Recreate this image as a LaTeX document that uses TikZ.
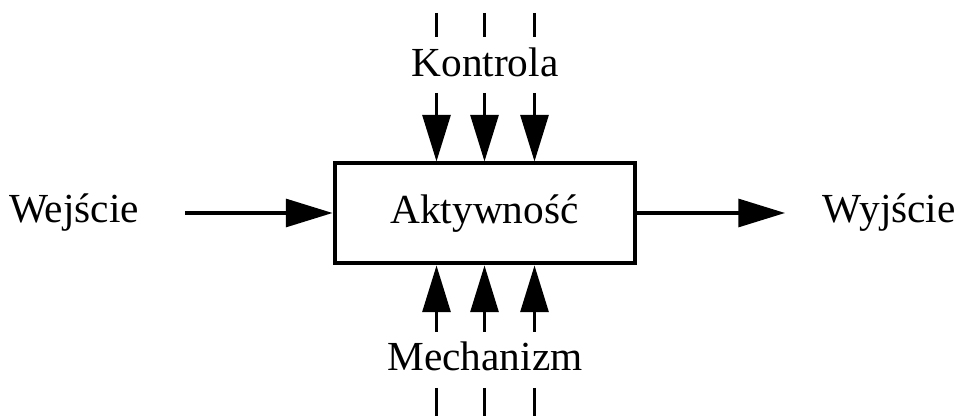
\documentclass[tikz,border=0pt]{standalone}
\usepackage{fontspec}
\setmainfont{Liberation Serif}
\usetikzlibrary{arrows.meta, positioning}

\tikzset{
    strzalka/.style={-{Triangle[length=35pt, width=21pt]}, line width=2.3pt},
    kreska/.style={line width=2.3pt},
    opis/.style={font=\fontsize{31}{36}\selectfont, inner sep=0pt}
}

\begin{document}
\begin{tikzpicture}[x=0.75pt, y=0.75pt]
    \useasboundingbox (0,0) rectangle (966,416);
    \node[draw, line width=3pt, minimum width=300pt*0.75, minimum height=100pt*0.75, opis] (akt) at (484.5,202.5) {Aktywność};
    \node[opis] (kontrola) at (485,354) {Kontrola};
    \node[opis] (mechanizm) at (485,60) {Mechanizm};
    \node[opis, anchor=west] (wejscie) at (9,203) {Wejście};
    \node[opis, anchor=east] (wyjscie) at (956,203) {Wyjście};

    % wejscie i wyjscie
    \coordinate (we) at (185,203);
    \coordinate (wy) at (785,203);
    \draw[strzalka] (we) -- (akt.west |- we);
    \draw[strzalka] (akt.east |- wy) -- (wy);

    % kontrola (gora) i mechanizm (dol)
    \foreach \dx [count=\i] in {-48,0,50} {
        \coordinate (kg\i) at (484.5+\dx,403);
        \coordinate (kd\i) at (484.5+\dx,379);
        \coordinate (k\i) at (484.5+\dx,323);
        \draw[kreska] (kg\i) -- (kd\i);
        \draw[strzalka] (k\i) -- (akt.north -| k\i);
        \coordinate (m\i) at (484.5+\dx,84);
        \coordinate (mg\i) at (484.5+\dx,28);
        \coordinate (md\i) at (484.5+\dx,0);
        \draw[strzalka] (m\i) -- (akt.south -| m\i);
        \draw[kreska] (mg\i) -- (md\i);
    }
\end{tikzpicture}
\end{document}
